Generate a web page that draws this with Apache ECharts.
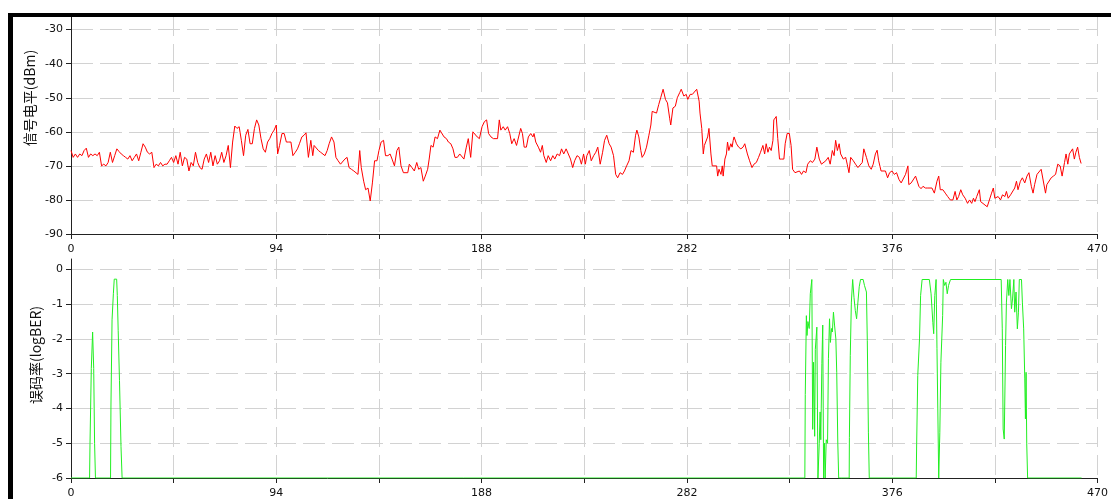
<!DOCTYPE html>
<html>
<head>
<meta charset="utf-8">
<script src="https://cdn.jsdelivr.net/npm/echarts@6/dist/echarts.min.js"></script>
<style>
html,body{margin:0;padding:0;background:#fff;}
#chart{width:1111px;height:499px;}
</style>
</head>
<body>
<div id="chart"></div>
<script>
// ---- data ----
const xTicks = [0, 94, 188, 282, 376, 470];
const levelTicks = [-90, -80, -70, -60, -50, -40, -30];
const berTicks = [-6, -5, -4, -3, -2, -1, 0];
const levelName = '信号电平(dBm)';
const berName = '误码率(logBER)';

const levelX = [
0,1,2,3,4,5,6,7,8,9,
10,11,12,13,14,15,16,17,18,19,
20,21,22,23,24,25,26,27,28,29,
30,31,32,33,34,35,36,37,38,39,
40,41,42,43,44,45,46,47,48,49,
50,51,52,53,54,55,56,57,58,59,
60,61,62,63,64,65,66,67,68,69,
70,71,72,73,74,75,76,77,78,79,
80,81,82,83,84,85,86,87,88,89,
90,91,92,93,94,
94.6,95.5,96.6,97.6,98.6,99.6,100.7,101.6,102.7,103.7,
104.6,105.7,106.7,107.6,108.7,109.8,110.7,111.3,112.2,113.3,
114.3,115.2,116.3,117.3,118.2,119.3,120.4,121.3,122.3,123.4,
124.3,125.4,126.4,127.3,128.4,129.5,130.4,131.4,132.2,132.9,
134,134.9,136,137,138,139,140.1,141,142,143.1,
144,145.1,146.1,147,148.1,149.2,150.1,151.1,152.2,153.1,
154.2,154.9,156.1,157.2,158.3,159.2,160.2,161.3,162.2,163.3,
164,164.8,165.8,166.7,167.8,168.9,169.8,170.8,171.9,172.8,
173.9,174.9,175.8,176.9,178,178.9,179.9,181,181.9,183,
184,184.9,186,187,188.2,189.3,190.3,191.2,192.3,193.4,
194.3,195.3,196.1,196.8,197.9,198.8,199.9,200.9,201.8,202.9,
204,204.9,205.9,206.7,207.5,208.5,209.4,210.5,211.5,212,
212.8,214,215,215.8,216.5,217.6,218.5,219.6,220.6,221.5,
222.6,223.7,224.6,225.6,226.7,227.6,228.7,229.7,230.6,231.7,
232.8,233.7,234.7,235.5,236.2,237.3,238.2,239.3,240.3,241.2,
242.3,243.4,244.3,245.3,246.4,247.3,248.4,249.4,250.3,251.4,
252.5,253.4,254.4,255.5,256.4,257.5,258.5,259.1,260,260.9,
261.5,262.5,263.5,264.6,265.5,266.1,267,268.1,269.1,270,
271.1,272.2,273.1,274.1,274.6,275.6,276.7,277.6,278.7,279.4,
280.6,281.7,282.4,283.5,284.5,285.4,286.5,287.6,288,288.8,
289.5,290,290.6,291.5,292.1,293,293.6,294.5,295.6,296.1,
296.7,297.6,298.2,298.6,299.4,300.1,300.6,301.2,302.1,302.7,
303.2,303.6,304.7,305.7,306.7,307.7,308.5,309.7,310.7,311.8,
312.7,313.8,314.8,315.7,316.8,317.6,318.3,319.1,319.8,320.6,
321.4,321.8,322.9,323.6,324.4,325.4,326.4,327,327.9,328.9,
329.7,330.4,331.5,332.4,333.5,334.5,335.4,336.5,337.3,338.5,
339.5,340.6,341.5,342.6,343.6,344.5,345.6,346.7,347.6,348.6,
349.4,350.1,350.9,351.7,352.4,353.6,354.7,355.4,356.2,357,
358.2,359.2,360.3,361.2,362.3,363,364.2,365.3,366.4,367.3,
368.3,369.1,369.8,370.9,371.8,372.9,373.9,374.8,375.9,377,
378,379.1,380.1,381,382.1,383.2,383.6,384.7,385.6,386.7,
387.4,388.2,389.2,390.1,391.2,392.3,393.2,394.2,395.3,396.5,
397.3,398,399.2,400.3,401.4,402.6,403.8,404.8,405.6,406.4,
407.4,408.3,409.4,410.5,411.4,412.4,413.2,413.9,414.7,415.9,
416.5,417.4,418.5,419.5,420.5,421.5,422.3,423,423.8,424.5,
425.6,426.5,427.6,428.3,429.1,430.2,431.1,432.1,432.9,433.6,
434.7,435.6,436.7,437.7,438.6,439.7,440.5,441.2,442.3,443.2,
444.2,445.1,446.2,446.8,447.7,448.8,449.8,450.8,451.8,452.9,
453.8,454.9,455.6,456.4,457.1,457.9,458.6,459.4,460.1,460.9,
461.7,462.5
];
const levelDbm = [
-65.5,-67.5,-66.5,-67.5,-66.5,-67,-65.5,-64.8,-67.5,-66.5,
-67,-66.5,-67,-66,-70,-69.5,-70,-69,-66,-69,
-67,-65,-65.8,-66.5,-67,-67.5,-68,-67,-68.5,-67.5,
-66.5,-68.5,-66,-63.5,-64.5,-66,-66.5,-66,-70.5,-69.5,
-70,-69,-70,-69.5,-69.5,-68.5,-67.5,-69,-67,-69.5,
-66,-70,-67.5,-68,-71.5,-69,-70,-66,-69,-70.5,
-71,-68,-66.5,-69,-66,-70,-67,-69.5,-68.5,-66,
-69,-67,-64,-70.5,-63,-58.3,-59,-58.5,-62.5,-67,
-61,-59.3,-63.5,-63.5,-59,-56.5,-58,-62,-65,-66,
-63,-62,-60.5,-59.5,-58,
-66.5,-64,-60.5,-60.5,-63,-63,-63,-67,-66,-65,
-63.5,-61.5,-61,-60.3,-67.5,-62.5,-67,-64,-64.5,-65.5,
-66,-66.5,-67,-65.5,-63.5,-61.5,-63,-67.5,-68.5,-69.5,
-69.5,-68,-67.5,-70.5,-71,-71.5,-71,-72.5,-65.5,-70.5,
-74.5,-77,-76.5,-80.3,-75,-68.5,-68.5,-65.5,-63,-62.5,
-67,-67,-66.5,-68,-70,-65.5,-64.5,-70,-72,-71.5,
-72,-69.5,-70.5,-71.5,-69,-71,-70.5,-74.5,-73,-71,
-68,-64,-64.5,-61.5,-62,-59.5,-59,-61.5,-62,-63,
-63.5,-65,-67.5,-67.5,-66.5,-66,-68,-64.5,-62,-67.5,
-60,-60.5,-61.5,-62,-58.5,-57,-56.5,-60.5,-61.5,-62,
-62,-62,-56.5,-59.5,-58.5,-59.5,-58.5,-60.5,-63.5,-62,
-64,-64,-59,-60.5,-64.5,-64.5,-61.5,-60.5,-61.5,-60.5,
-63,-64.5,-66,-64,-67,-69,-67,-68.5,-67,-68,
-66.5,-67,-65,-66.5,-65,-64.5,-68,-70.5,-68.5,-67,
-67.5,-69.5,-66.5,-69.5,-67,-65.5,-68.5,-67,-66,-64.5,
-69.5,-66,-62.5,-61,-63.5,-64.5,-67,-72.5,-73.5,-72,
-72.5,-71.5,-70,-68.5,-65.5,-66,-61,-59.5,-61.5,-65.5,
-67.5,-66.5,-64.5,-61,-58,-54,-54,-54.5,-52,-50,
-47.5,-50.5,-51.5,-56,-58,-53,-52.5,-50,-48.5,-47.5,
-49.5,-49,-50.5,-49,-49,-49.5,-47.5,-51,-54.5,-59,
-66.5,-64,-63,-61.5,-59,-66.5,-70,-69.5,-70,-73,
-71,-72.5,-70,-73,-68,-66.5,-63,-65.5,-63.5,-64.5,
-62.5,-61.5,-63.5,-64.5,-65,-64.5,-63.5,-66.5,-68.5,-70.5,
-69.5,-69,-67.5,-66,-64,-66.5,-63.5,-66,-64.5,-65.5,
-62.5,-56.5,-55.5,-62,-68,-68,-68,-63.5,-60.5,-60.5,
-64,-71,-72,-71.5,-71.5,-72.5,-71.5,-72,-69.5,-68.5,
-69,-68,-64.5,-68,-69.5,-70,-68.5,-67.5,-69.5,-65.5,
-67,-62.5,-65.5,-63.5,-66.5,-68,-67.5,-69.5,-72,-67.5,
-68.5,-69.5,-70.5,-71,-69,-65,-67.5,-70,-71,-69.5,
-66.5,-65.4,-68.5,-71.5,-71,-71.5,-73.5,-72,-71.5,-72.5,
-72,-74,-75,-74.5,-72.5,-70,-75.5,-75,-75,-73,
-73.5,-76,-76.7,-76,-76.5,-76.5,-76.5,-76.5,-78,-74.5,
-73,-77,-77,-78,-79,-80,-80,-77.5,-80,-79,
-77,-78.5,-79.5,-81,-80,-81,-79.5,-80.5,-79,-77,
-80.5,-80,-81.5,-82,-80,-78,-76.5,-79.5,-80,-79,
-80,-78.5,-79,-77.5,-79.5,-78.5,-79,-76.5,-74.5,-77,
-74.5,-73.5,-75,-73,-72,-76,-78,-75.5,-72.5,-72,
-71,-71.5,-78,-75.5,-76,-73.5,-73,-72.5,-69.5,-70,
-73,-69,-66.5,-69.5,-66.5,-67,-65,-68,-66,-64.5,
-67.5,-69.3
];

const berX = [
0,8.5,8.7,9.3,9.9,10.4,10.8,11.2,
18.1,18.3,18.8,19.4,19.8,20.9,21.2,21.6,22.2,22.9,23.4,
336.0,336.2,336.7,337.0,337.4,338.0,338.5,339.2,339.6,340.0,
340.5,340.8,341.5,342.0,342.6,343.0,343.3,343.8,344.2,344.6,
345.0,345.3,345.8,346.4,346.8,347.3,347.7,348.2,348.6,349.1,
349.6,350.2,350.6,351.1,351.5,
356.3,356.4,356.8,357.3,357.9,358.5,359.1,359.7,360.3,360.9,
361.5,362.7,363.3,364.2,364.6,365.1,365.5,
387.0,387.2,387.7,388.5,389.0,389.7,393.0,393.8,394.6,395.0,
395.5,396.1,396.5,397.0,397.3,397.8,398.3,399.1,399.4,400.0,
400.6,401.2,401.8,402.7,
425.9,426.4,426.8,427.3,427.9,428.3,428.9,429.4,429.9,430.6,
431.1,431.7,432.1,432.7,433.3,433.8,434.2,435.2,435.6,436.2,
436.7,437.0,437.3,437.6,438.0,
462.7
];
const berLog = [
-6,-6,-5,-2.85,-1.8,-2.85,-5,-6,
-6,-3.9,-1.45,-0.7,-0.28,-0.28,-0.75,-1.75,-3.2,-5.1,-6,
-6,-3.6,-1.33,-1.9,-1.5,-1.7,-0.7,-0.29,-4.6,-2.67,
-4.8,-2.3,-1.66,-6,-5.0,-4.1,-4.9,-2.7,-1.6,-6,
-5.0,-6,-4.9,-5.0,-2.57,-1.42,-2.1,-1.7,-1.8,-1.23,
-1.6,-2.0,-2.96,-5.02,-6,
-6,-4.83,-2.48,-0.94,-0.29,-0.8,-1.18,-1.42,-0.94,-0.5,
-0.29,-0.29,-0.46,-0.65,-2.04,-4.68,-6,
-6,-5.02,-3.05,-2.0,-0.75,-0.29,-0.29,-0.7,-1.52,-1.85,
-0.75,-0.29,-2.28,-4.59,-6,-4.7,-2.67,-1.33,-0.29,-0.46,
-0.37,-0.7,-0.46,-0.29,
-0.29,-1.71,-4.59,-4.88,-2.19,-0.94,-0.29,-0.75,-0.29,-1.13,
-0.85,-0.29,-1.23,-0.65,-1.71,-1.23,-0.29,-0.29,-0.94,-1.71,
-3.15,-4.3,-2.96,-5.02,-6,
-6
];

// ---- chart ----
const levelData = levelX.map((x, i) => [x, levelDbm[i]]);
const berData = berX.map((x, i) => [x, berLog[i]]);

const labelFont = { color: '#111', fontFamily: 'DejaVu Sans', fontSize: 11 };
const gridLine = { show: true, showMinLine: false, showMaxLine: true, lineStyle: { color: '#d2d2d2', width: 1, type: [22, 7] } };
const gridLineV = { show: true, lineStyle: { color: '#d2d2d2', width: 1, type: [20, 8] } };
const axisLineStyle = { show: true, onZero: false, lineStyle: { color: '#222', width: 1 } };

function makeX(gridIndex) {
  return {
    type: 'value', gridIndex: gridIndex, min: 0, max: 470, interval: 47,
    axisLine: axisLineStyle,
    axisTick: { show: true, length: 5, lineStyle: { color: '#222' } },
    axisLabel: Object.assign({ margin: 10, formatter: v => (xTicks.indexOf(v) >= 0 ? String(v) : '') }, labelFont),
    splitLine: gridLineV
  };
}

function makeY(gridIndex, min, max, ticks) {
  return {
    type: 'value', gridIndex: gridIndex, min: min, max: max, interval: 1,
    axisLine: axisLineStyle,
    axisTick: { show: true, length: 5, lineStyle: { color: '#222' }, customValues: ticks },
    axisLabel: Object.assign({ margin: 8, customValues: ticks }, labelFont),
    splitLine: gridLine
  };
}

const chart = echarts.init(document.getElementById('chart'), null, { renderer: 'canvas' });
chart.setOption({
  animation: false,
  backgroundColor: '#ffffff',
  grid: [
    { left: 71, top: 16, width: 1034, height: 218 },
    { left: 71, top: 259, width: 1034, height: 219 }
  ],
  xAxis: [makeX(0), makeX(1)],
  yAxis: [
    makeY(0, -90, -26, levelTicks),
    makeY(1, -6, 0.3, berTicks)
  ],
  series: [
    {
      type: 'line', xAxisIndex: 0, yAxisIndex: 0, data: levelData,
      showSymbol: false, symbol: 'none', z: 5,
      lineStyle: { color: '#ff0000', width: 1 }
    },
    {
      type: 'line', xAxisIndex: 1, yAxisIndex: 1, data: berData,
      showSymbol: false, symbol: 'none', z: 5,
      lineStyle: { color: '#22ee22', width: 1 }
    }
  ],
  graphic: [
    { type: 'rect', z: 100, shape: { x: 8, y: 13, width: 5, height: 486 }, style: { fill: '#000' } },
    { type: 'rect', z: 100, shape: { x: 8, y: 13, width: 1103, height: 4 }, style: { fill: '#000' } },
    { type: 'text', z: 100, x: 30, y: 98, rotation: Math.PI / 2,
      style: { text: levelName, fill: '#111', font: '14px "Noto Sans CJK SC"', align: 'center', verticalAlign: 'middle' } },
    { type: 'text', z: 100, x: 36, y: 355, rotation: Math.PI / 2,
      style: { text: berName, fill: '#111', font: '14px "Noto Sans CJK SC"', align: 'center', verticalAlign: 'middle' } }
  ]
});
</script>
</body>
</html>
